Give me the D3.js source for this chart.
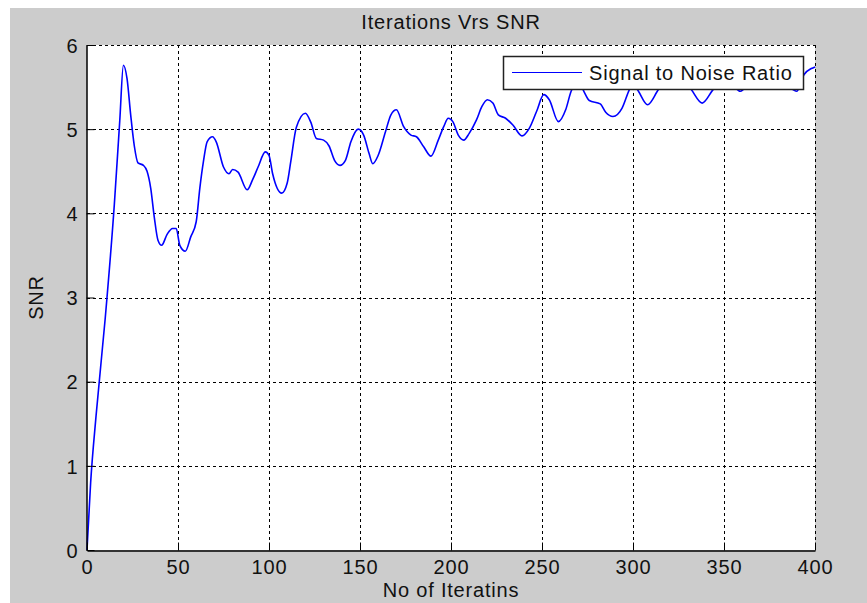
<!DOCTYPE html>
<html lang="en">
<head>
    <meta charset="UTF-8">
    <title>Iterations Vrs SNR</title>
    <script src="https://d3js.org/d3.v7.min.js"></script>
    <style>
        body { margin: 0; background: white; }
        svg { display: block; }
        text { font-family: "Liberation Sans", Arial, sans-serif; font-size: 20px; letter-spacing: 0.8px; fill: #111; }
    </style>
</head>
<body>
    <script>
        // iteration number and SNR value
        const iterations = [0, 2, 5, 10, 15, 18, 20, 22, 24, 26, 28, 31, 33, 35, 37, 39,
            41, 44, 47, 49, 51, 54, 57, 60, 62, 64, 66, 69, 71, 75, 78, 80, 83, 88, 91, 94,
            98, 100, 102, 107, 110, 112, 115, 120, 123, 126, 130, 133, 136, 139, 142, 145, 149, 152, 155, 157,
            160, 164, 167, 170, 174, 178, 181, 185, 189, 193, 196, 198.5, 201, 204, 207, 210, 214, 217, 220, 223,
            226, 230, 234, 239, 243, 247, 251, 254, 259, 263, 266, 270, 273, 276, 282, 285, 289, 294, 298, 300,
            303, 308, 314, 320, 327, 332, 338, 344, 350, 355, 359, 364, 372, 380, 385, 390, 394, 398, 400];
        const snr = [0, 0.8, 1.6, 2.75, 4.1, 5.1, 5.76, 5.6, 5.17, 4.8, 4.6, 4.57, 4.5, 4.3, 3.95, 3.68,
            3.62, 3.75, 3.82, 3.82, 3.62, 3.55, 3.72, 3.9, 4.3, 4.62, 4.85, 4.91, 4.85, 4.55, 4.47, 4.52, 4.49, 4.28, 4.4, 4.55,
            4.73, 4.69, 4.47, 4.24, 4.36, 4.62, 5.02, 5.19, 5.08, 4.89, 4.87, 4.8, 4.63, 4.57, 4.63, 4.85, 5.0, 4.93, 4.71, 4.59,
            4.69, 4.97, 5.17, 5.23, 5.03, 4.93, 4.91, 4.79, 4.68, 4.87, 5.03, 5.13, 5.09, 4.93, 4.87, 4.95, 5.11, 5.27, 5.35, 5.31,
            5.17, 5.13, 5.05, 4.92, 5.01, 5.21, 5.41, 5.35, 5.09, 5.23, 5.45, 5.58, 5.45, 5.34, 5.3, 5.2, 5.15, 5.25, 5.47, 5.55,
            5.45, 5.29, 5.47, 5.62, 5.6, 5.47, 5.31, 5.47, 5.6, 5.52, 5.45, 5.55, 5.65, 5.6, 5.52, 5.45, 5.65, 5.72, 5.74];
        const xTicks = [0, 50, 100, 150, 200, 250, 300, 350, 400];
        const yTicks = [0, 1, 2, 3, 4, 5, 6];
        const seriesName = "Signal to Noise Ratio";

        const w = 867, h = 603;
        const pLeft = 87, pRight = 815, pTop = 45, pBottom = 550;

        const svg = d3.select("body").append("svg")
            .attr("width", w)
            .attr("height", h);

        // grey figure background
        svg.append("rect")
            .attr("x", 10).attr("y", 8)
            .attr("width", w - 10).attr("height", h - 8)
            .attr("fill", "#cccccc");

        svg.append("rect")
            .attr("x", pLeft).attr("y", pTop)
            .attr("width", pRight - pLeft).attr("height", pBottom - pTop)
            .attr("fill", "white");

        const xScale = d3.scaleLinear().domain([0, 400]).range([pLeft, pRight]);
        const yScale = d3.scaleLinear().domain([0, 6]).range([pBottom, pTop]);

        // dotted grid
        const grid = svg.append("g")
            .attr("stroke", "#000")
            .attr("stroke-width", 1)
            .attr("stroke-dasharray", "3,3");
        grid.selectAll(".gx")
            .data(xTicks.slice(1, -1))
            .enter().append("line")
            .attr("x1", d => Math.round(xScale(d)) + 0.5)
            .attr("x2", d => Math.round(xScale(d)) + 0.5)
            .attr("y1", pTop).attr("y2", pBottom);
        grid.selectAll(".gy")
            .data(yTicks.slice(1, -1))
            .enter().append("line")
            .attr("y1", d => Math.round(yScale(d)) + 0.5)
            .attr("y2", d => Math.round(yScale(d)) + 0.5)
            .attr("x1", pLeft).attr("x2", pRight);
        // top and right box edges are dotted too
        grid.append("line")
            .attr("x1", pLeft).attr("x2", pRight)
            .attr("y1", pTop + 0.5).attr("y2", pTop + 0.5);
        grid.append("line")
            .attr("x1", pRight + 0.5).attr("x2", pRight + 0.5)
            .attr("y1", pTop).attr("y2", pBottom);

        // the SNR curve
        const line = d3.line()
            .x((d, i) => xScale(iterations[i]))
            .y(d => yScale(d))
            .curve(d3.curveMonotoneX);

        svg.append("path")
            .datum(snr)
            .attr("fill", "none")
            .attr("stroke", "#0000ff")
            .attr("stroke-width", 1.6)
            .attr("d", line);

        // axes
        const xAxis = d3.axisBottom(xScale).tickValues(xTicks).tickSizeInner(-8).tickSizeOuter(0).tickPadding(8);
        const gx = svg.append("g")
            .attr("transform", "translate(0," + (pBottom + 0.5) + ")")
            .call(xAxis);
        const yAxis = d3.axisLeft(yScale).tickValues(yTicks).tickFormat(d3.format("d"))
            .tickSizeInner(-8).tickSizeOuter(0).tickPadding(8);
        const gy = svg.append("g")
            .attr("transform", "translate(" + (pLeft - 0.5) + ",0)")
            .call(yAxis);
        [gx, gy].forEach(g => {
            g.select(".domain").attr("stroke", "#000").attr("stroke-width", 1.5);
            g.selectAll(".tick line").attr("stroke", "#000");
            g.selectAll(".tick text")
                .style("font-family", "'Liberation Sans', Arial, sans-serif")
                .style("font-size", "20px")
                .attr("fill", "#111");
        });
        gx.selectAll(".tick text").attr("dy", "0.75em");
        gy.selectAll(".tick text").attr("dy", "0.36em");

        // titles
        svg.append("text")
            .attr("x", (pLeft + pRight) / 2)
            .attr("y", 29)
            .attr("text-anchor", "middle")
            .text("Iterations Vrs SNR");

        svg.append("text")
            .attr("x", (pLeft + pRight) / 2)
            .attr("y", 597)
            .attr("text-anchor", "middle")
            .text("No of Iteratins");

        svg.append("text")
            .attr("transform", "translate(43," + (pTop + pBottom) / 2 + ") rotate(-90)")
            .attr("text-anchor", "middle")
            .text("SNR");

        // legend
        const legend = svg.append("g").attr("id", "legend");
        legend.append("rect")
            .attr("x", 503.5).attr("y", 56.5)
            .attr("width", 300).attr("height", 33)
            .attr("fill", "white")
            .attr("stroke", "#222")
            .attr("stroke-width", 1.5);
        legend.append("line")
            .attr("x1", 512).attr("x2", 582)
            .attr("y1", 72.5).attr("y2", 72.5)
            .attr("stroke", "#0000ff")
            .attr("stroke-width", 1.2);
        legend.append("text")
            .attr("x", 589)
            .attr("y", 80)
            .text(seriesName);
    </script>
</body>
</html>
